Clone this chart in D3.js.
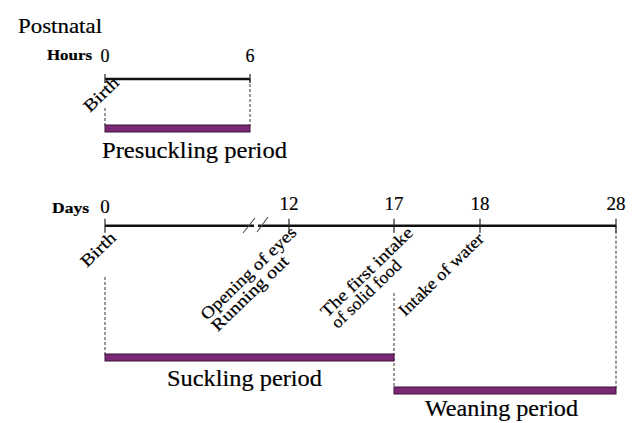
<!DOCTYPE html>
<html>
<head>
<meta charset="utf-8">
<script src="https://cdn.jsdelivr.net/npm/d3@7/dist/d3.min.js"></script>
<style>
  html, body { margin: 0; padding: 0; background: #fff; }
  svg { display: block; }
  text { fill: #000; stroke: #000; stroke-width: 0.2; }
</style>
</head>
<body>
<svg id="chart" width="638" height="423" font-family="Liberation Serif"></svg>
<script>
// ---------- data ----------
const title = "Postnatal";
const hourUnit = "Hours";
const dayUnit = "Days";
const hourTicks = [0, 6];
const dayTicks = [0, 12, 17, 18, 28];
const hourEvents = [{ t: 0, lines: ["Birth"] }];
const dayEvents = [
  { t: 0, lines: ["Birth"] },
  { t: 12, lines: ["Opening of eyes", "Running out"] },
  { t: 17, lines: ["The first intake", "of solid food"] },
  { t: 18, lines: ["Intake of water"] }
];
const hourPeriods = [{ name: "Presuckling period", start: 0, end: 6 }];
const dayPeriods = [
  { name: "Suckling period", start: 0, end: 17 },
  { name: "Weaning period", start: 17, end: 28 }
];

// ---------- layout ----------
const svg = d3.select("#chart");
const purple = "#7b2876";
const barStroke = "#3c1239";
const angle = -44;

const xH = d3.scaleLinear().domain([0, 6]).range([105, 250]);
const xD = d3.scaleLinear().domain([0, 12, 17, 18, 28]).range([105, 289, 394, 480, 616]);

const topAxisY = 79, botAxisY = 225.7;

// title
svg.append("text").attr("x", 18).attr("y", 33).attr("font-size", 21)
  .attr("textLength", 84).attr("lengthAdjust", "spacingAndGlyphs").text(title);

// unit labels
svg.append("text").attr("x", 47).attr("y", 60).attr("font-size", 14).attr("font-weight", "bold")
  .attr("textLength", 45).attr("lengthAdjust", "spacingAndGlyphs").text(hourUnit);
svg.append("text").attr("x", 52).attr("y", 213).attr("font-size", 14).attr("font-weight", "bold")
  .attr("textLength", 37).attr("lengthAdjust", "spacingAndGlyphs").text(dayUnit);

// ---------- dashed guides (drawn first) ----------
const dash = "3,2";
const guides = [
  { s: xH, t: 0, y1: 108, y2: 126 },
  { s: xH, t: 6, y1: topAxisY, y2: 126 },
  { s: xD, t: 0, y1: 277, y2: 355 },
  { s: xD, t: 17, y1: 293, y2: 388 },
  { s: xD, t: 28, y1: botAxisY, y2: 388 }
];
svg.append("g").selectAll("line").data(guides).join("line")
  .attr("x1", d => d.s(d.t)).attr("x2", d => d.s(d.t))
  .attr("y1", d => d.y1).attr("y2", d => d.y2)
  .attr("stroke", "#333").attr("stroke-width", 1).attr("stroke-dasharray", dash);

// ---------- axes ----------
function drawAxis(scale, ticks, y, up, down, labelY, size) {
  const g = svg.append("g");
  g.append("line").attr("x1", scale(ticks[0])).attr("x2", scale(ticks[ticks.length - 1]))
    .attr("y1", y).attr("y2", y).attr("stroke", "#111").attr("stroke-width", 2.6);
  g.selectAll("line.tick").data(ticks).join("line").attr("class", "tick")
    .attr("x1", d => scale(d)).attr("x2", d => scale(d))
    .attr("y1", y - up).attr("y2", y + down)
    .attr("stroke", "#222").attr("stroke-width", 1.2);
  g.selectAll("text").data(ticks).join("text")
    .attr("x", d => scale(d)).attr("y", d => labelY(d))
    .attr("text-anchor", "middle").attr("font-size", size)
    .text(d => d);
  return g;
}
drawAxis(xH, hourTicks, topAxisY, 5, 4, () => 62, 18);
drawAxis(xD, dayTicks, botAxisY, 7, 7, d => d === 0 ? 213 : 210, 19);

// axis break marks between 0 and 12
svg.append("rect").attr("x", 254).attr("y", botAxisY - 2).attr("width", 4).attr("height", 4).attr("fill", "#fff");
[[243, 233, 255, 218], [257, 232, 268, 217]].forEach(s => {
  svg.append("line").attr("x1", s[0]).attr("y1", s[1]).attr("x2", s[2]).attr("y2", s[3])
    .attr("stroke", "#555").attr("stroke-width", 1.2);
});

// ---------- rotated event annotations ----------
// start point (baseline-left of first line) and rendered length per line
const annoLayout = {
  "H0": { x: 90, y: 113, len: [42] },
  "D0": { x: 87, y: 268, len: [42] },
  "D12": { x: 207, y: 321, len: [126, 100] },
  "D17": { x: 327, y: 318, len: [121, 90] },
  "D18": { x: 405, y: 317, len: [111] }
};
function drawEvents(events, prefix) {
  events.forEach(ev => {
    const L = annoLayout[prefix + ev.t];
    const t = svg.append("text")
      .attr("transform", `translate(${L.x},${L.y}) rotate(${angle})`)
      .attr("font-size", 17);
    ev.lines.forEach((line, i) => {
      t.append("tspan").attr("x", 0).attr("y", i * 15.5)
        .attr("textLength", L.len[i]).attr("lengthAdjust", "spacingAndGlyphs")
        .text(line);
    });
  });
}
drawEvents(hourEvents, "H");
drawEvents(dayEvents, "D");

// ---------- period bars ----------
const periodLayout = {
  "Presuckling period": { barY: 125, textX: 102, textY: 158, size: 24, len: 185 },
  "Suckling period": { barY: 354, textX: 167, textY: 386, size: 23, len: 155 },
  "Weaning period": { barY: 387, textX: 425, textY: 416, size: 23, len: 153 }
};
function drawPeriods(periods, scale) {
  periods.forEach(p => {
    const L = periodLayout[p.name];
    svg.append("rect")
      .attr("x", scale(p.start)).attr("y", L.barY)
      .attr("width", scale(p.end) - scale(p.start)).attr("height", 7)
      .attr("fill", purple).attr("stroke", barStroke).attr("stroke-width", 1);
    svg.append("text").attr("x", L.textX).attr("y", L.textY)
      .attr("font-size", L.size).attr("textLength", L.len).attr("lengthAdjust", "spacingAndGlyphs")
      .text(p.name);
  });
}
drawPeriods(hourPeriods, xH);
drawPeriods(dayPeriods, xD);
</script>
</body>
</html>
